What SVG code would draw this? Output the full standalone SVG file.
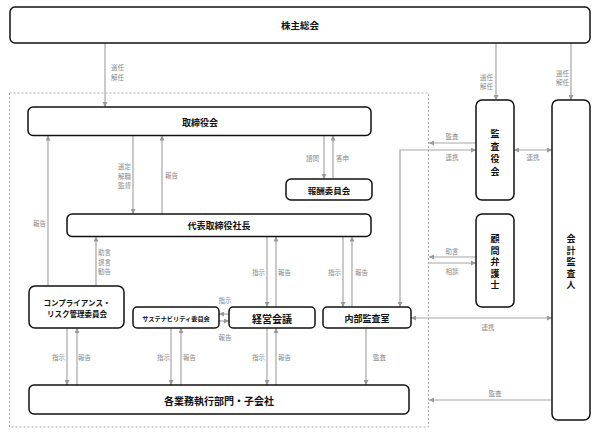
<svg xmlns="http://www.w3.org/2000/svg" width="600" height="436" viewBox="0 0 600 436">
<style>
.n{fill:#fff;stroke:#111;stroke-width:1.5}
.t{font-family:"Noto Sans CJK JP","Noto Sans",sans-serif;font-weight:bold;fill:#111;text-anchor:middle;dominant-baseline:central}
.l{font-family:"Noto Sans CJK JP","Noto Sans",sans-serif;font-size:6.5px;fill:#888;dominant-baseline:central}
.c{fill:none;stroke:#a6a6a6;stroke-width:1.2}
.a{marker-end:url(#ah)}
.b{marker-start:url(#ah);marker-end:url(#ah)}
</style>
<defs>
<marker id="ah" markerUnits="userSpaceOnUse" markerWidth="5" markerHeight="5" refX="5" refY="2.5" orient="auto-start-reverse">
<path d="M0,0 L5,2.5 L0,5 z" fill="#999"/>
</marker>
</defs>
<rect x="10" y="0" width="0" height="0" fill="none"/>
<rect x="9.5" y="93" width="419" height="334" fill="none" stroke="#aaa" stroke-width="1" stroke-dasharray="2,2"/>

<g id="connectors">
<path class="c a" d="M105,43 V107"/>
<path class="c a" d="M496,43 V100"/>
<path class="c a" d="M571,43 V100"/>
<path class="c a" d="M133,135.5 V214"/>
<path class="c a" d="M162,214 V135.5"/>
<path class="c a" d="M324,135.5 V179"/>
<path class="c a" d="M333,179 V135.5"/>
<path class="c a" d="M48,286 V135.5"/>
<path class="c a" d="M96,286 V236.5"/>
<path class="c a" d="M267,236.5 V307"/>
<path class="c a" d="M276,307 V236.5"/>
<path class="c a" d="M343,236.5 V307"/>
<path class="c a" d="M352,307 V236.5"/>
<path class="c a" d="M476,143 H429"/>
<path class="c b" d="M400,307 V150 H476"/>
<path class="c b" d="M514,150 H552"/>
<path class="c a" d="M476,257 H429"/>
<path class="c a" d="M429,263 H476"/>
<path class="c b" d="M411,318 H552"/>
<path class="c a" d="M229,314 H219"/>
<path class="c a" d="M219,321 H229"/>
<path class="c a" d="M67,328 V385"/>
<path class="c a" d="M77,385 V328"/>
<path class="c a" d="M171,328 V385"/>
<path class="c a" d="M181,385 V328"/>
<path class="c a" d="M267,328 V385"/>
<path class="c a" d="M276,385 V328"/>
<path class="c a" d="M366,328 V385"/>
<path class="c a" d="M552,400 H429"/>

<text class="l" x="111" y="67">選任</text>
<text class="l" x="111" y="77">解任</text>
<text class="l" x="493" y="77" text-anchor="end">選任</text>
<text class="l" x="493" y="86" text-anchor="end">解任</text>
<text class="l" x="569" y="73" text-anchor="end">選任</text>
<text class="l" x="569" y="82" text-anchor="end">解任</text>
<text class="l" x="131" y="166" text-anchor="end">選定</text>
<text class="l" x="131" y="175.5" text-anchor="end">解職</text>
<text class="l" x="131" y="185" text-anchor="end">監督</text>
<text class="l" x="165" y="175">報告</text>
<text class="l" x="319" y="158" text-anchor="end">諮問</text>
<text class="l" x="336" y="158">答申</text>
<text class="l" x="452" y="136" text-anchor="middle">監査</text>
<text class="l" x="452" y="157" text-anchor="middle">連携</text>
<text class="l" x="533" y="157" text-anchor="middle">連携</text>
<text class="l" x="46" y="223" text-anchor="end">報告</text>
<text class="l" x="98" y="252">助言</text>
<text class="l" x="98" y="261.5">提言</text>
<text class="l" x="98" y="271">勧告</text>
<text class="l" x="265" y="272" text-anchor="end">指示</text>
<text class="l" x="278" y="272">報告</text>
<text class="l" x="341" y="272" text-anchor="end">指示</text>
<text class="l" x="355" y="272">報告</text>
<text class="l" x="452" y="251" text-anchor="middle">助言</text>
<text class="l" x="452" y="271" text-anchor="middle">相談</text>
<text class="l" x="225" y="300" text-anchor="middle">指示</text>
<text class="l" x="225" y="337" text-anchor="middle">報告</text>
<text class="l" x="488" y="327" text-anchor="middle">連携</text>
<text class="l" x="65" y="357" text-anchor="end">指示</text>
<text class="l" x="78" y="357">報告</text>
<text class="l" x="170" y="357" text-anchor="end">指示</text>
<text class="l" x="183" y="357">報告</text>
<text class="l" x="265" y="357" text-anchor="end">指示</text>
<text class="l" x="278" y="357">報告</text>
<text class="l" x="373" y="357">監査</text>
<text class="l" x="495" y="393" text-anchor="middle">監査</text>
</g>

<g id="shareholders"><rect class="n" x="10" y="7" width="580" height="36" rx="5"/><text class="t" x="300" y="25" font-size="9.5">株主総会</text></g>
<g id="board"><rect class="n" x="28" y="107" width="343" height="28.5" rx="5"/><text class="t" x="200" y="122" font-size="9">取締役会</text></g>
<g id="compensation"><rect class="n" x="286" y="179" width="86" height="21" rx="5"/><text class="t" x="329" y="190" font-size="8.5">報酬委員会</text></g>
<g id="president"><rect class="n" x="67" y="214" width="304" height="22.5" rx="5"/><text class="t" x="219" y="225.5" font-size="9">代表取締役社長</text></g>
<g id="compliance"><rect class="n" x="29" y="286" width="95" height="42" rx="6"/><text class="t" x="77" y="302" font-size="7.5">コンプライアンス・</text><text class="t" x="77" y="313" font-size="7.5">リスク管理委員会</text></g>
<g id="sustainability"><rect class="n" x="133" y="307" width="86" height="21" rx="4"/><text class="t" x="176" y="318" font-size="6.2">サステナビリティ委員会</text></g>
<g id="management"><rect class="n" x="229" y="307" width="86" height="21" rx="4"/><text class="t" x="272" y="318" font-size="10">経営会議</text></g>
<g id="internal-audit"><rect class="n" x="323" y="307" width="88" height="21" rx="4"/><text class="t" x="367" y="318" font-size="9">内部監査室</text></g>
<g id="divisions"><rect class="n" x="29" y="385" width="380" height="29" rx="5"/><text class="t" x="219" y="400" font-size="10">各業務執行部門・子会社</text></g>
<g id="auditors"><rect class="n" x="476" y="100" width="38" height="100" rx="6"/><text class="t" font-size="9"><tspan x="495" y="133">監</tspan><tspan x="495" y="145.5">査</tspan><tspan x="495" y="158">役</tspan><tspan x="495" y="170.5">会</tspan></text></g>
<g id="counsel"><rect class="n" x="476" y="214" width="38" height="93" rx="6"/><text class="t" font-size="9"><tspan x="495" y="238">顧</tspan><tspan x="495" y="249.5">問</tspan><tspan x="495" y="261">弁</tspan><tspan x="495" y="272.5">護</tspan><tspan x="495" y="284">士</tspan></text></g>
<g id="accounting-auditor"><rect class="n" x="552" y="100" width="38" height="320" rx="6"/><text class="t" font-size="9"><tspan x="571" y="238">会</tspan><tspan x="571" y="249.5">計</tspan><tspan x="571" y="261">監</tspan><tspan x="571" y="272.5">査</tspan><tspan x="571" y="284">人</tspan></text></g>
</svg>
